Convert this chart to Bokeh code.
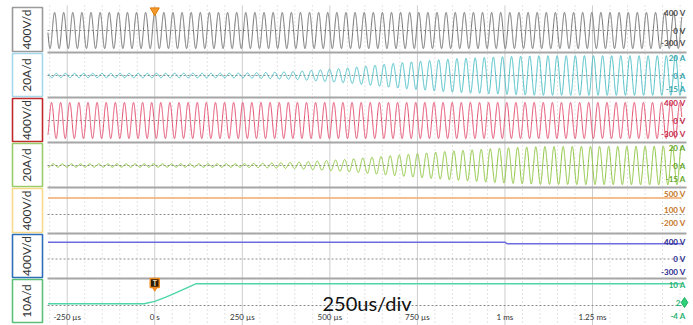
import numpy as np
from bokeh.plotting import figure
from bokeh.models import Range1d
from bokeh.core.properties import value
from bokeh.embed import file_html
from bokeh.resources import INLINE

# ---------------- data ----------------
time_ticks_us = [-250, 0, 250, 500, 750, 1000, 1250]
time_tick_labels = ["-250 µs", "0 s", "250 µs", "500 µs", "750 µs", "1 ms", "1.25 ms"]
record_start_us = -305
record_end_us = 1505

channel_scales = ["400V/d", "20A/d", "400V/d", "20A/d", "400V/d", "400V/d", "10A/d"]

# channels 1 and 3: sinusoidal voltages (peak V) and apparent period (µs)
v1_peak = 420
v3_peak = 410
carrier_period_us = 26.0

# channels 2 and 4: current envelopes (peak A)
env_time_us = [-305, 250, 400, 550, 700, 850, 1000, 1100, 1505]
i2_envelope = [2.4, 2.6, 4.5, 8.5, 14.5, 19.0, 21.5, 22.5, 22.5]
i4_envelope = [1.8, 1.9, 3.5, 7.0, 12.0, 16.5, 20.0, 21.5, 22.0]

# channel 5 and 6: DC voltages (V)
v5_time_us = [-305, 1505]
v5_values = [395, 395]
v6_time_us = [-305, 1000, 1006, 1505]
v6_values = [390, 390, 355, 355]

# channel 7: current ramp (A)
i7_time_us = [-305, -30, 0, 30, 60, 90, 117, 1505]
i7_values = [1.4, 1.4, 2.5, 4.3, 6.3, 8.4, 10.3, 10.3]

right_label_texts = [
    ["400 V", "0 V", "-300 V"],
    ["20 A", "0 A", "-15 A"],
    ["400 V", "0 V", "-300 V"],
    ["20 A", "0 A", "-15 A"],
    ["500 V", "100 V", "-200 V"],
    ["400 V", "0 V", "-300 V"],
    ["10 A", "2", "-4 A"],
]
right_label_values = [
    [400, 0, -300],
    [20, 0, -15],
    [400, 0, -300],
    [20, 0, -15],
    [500, 100, -200],
    [400, 0, -300],
    [10, 2, -4],
]
time_div_label = "250us/div"

# ---------------- styling / layout ----------------
trace_colors = ["#727272", "#4cbfc6", "#e4506f", "#8cc43e", "#f2aa6a", "#6c6ce0", "#4fd6a8"]
label_colors = ["#4a4a4a", "#35a6ae", "#c8284c", "#66a82a", "#c47426", "#2a2a8e", "#26b070"]
box_colors = ["#9a9a9a", "#a6d8ec", "#c0282c", "#9acc6a", "#f6da8a", "#2e6eb8", "#5cc07a"]

strip_zero_px = [30, 75, 120, 165, 214, 258.5, 306.5]
strip_px_per_unit = [0.043, 0.88, 0.044, 0.88, 0.042, 0.043, 2.25]
reference_px = [30, 75, 120, 165, 214, 258.5, 305]
separators_px = [52, 97, 142, 187, 233, 278]
box_tops = [7, 53, 98, 143, 188, 234, 279]
box_bottoms = [51, 96, 141, 186, 232, 277, 322]

W, H = 693, 325
T0_PX = 154.25
PX_PER_US = 0.3502


def tx(page_x):
    return (page_x - T0_PX) / PX_PER_US


p = figure(width=W, height=H, output_backend="svg", toolbar_location=None,
           x_range=Range1d(tx(0), tx(W)), y_range=Range1d(H, 0),
           x_axis_location=None, y_axis_location=None, min_border=0)
p.grid.visible = False
p.outline_line_color = None
p.background_fill_color = "white"
p.border_fill_color = "white"

for i, (c, k) in enumerate(zip(strip_zero_px, strip_px_per_unit)):
    p.extra_y_ranges[f"s{i}"] = Range1d((c - H) / k, c / k)

FONT = value("Lato")
plot_left, plot_right = tx(47), tx(684)

# minor dotted vertical grid
minor = [m for m in range(-300, 1501, 50) if m not in time_ticks_us]
p.segment(x0=minor, x1=minor, y0=[5] * len(minor), y1=[H] * len(minor),
          line_color="#c9c9c9", line_dash="1 3", line_width=1)
# major vertical grid
p.segment(x0=time_ticks_us, x1=time_ticks_us, y0=[5] * 7, y1=[H] * 7,
          line_color="#cdcdcd", line_width=1)

# dashed reference lines
p.segment(x0=[plot_left] * 7, x1=[plot_right] * 7, y0=reference_px, y1=reference_px,
          line_color="#8a8a8a", line_dash="2 2", line_width=1)

# waveforms
t = np.linspace(record_start_us, record_end_us, 7000)
w = 2 * np.pi * t / carrier_period_us
v1 = v1_peak * np.cos(w)
v3 = v3_peak * np.cos(w + 2.1)
i2 = np.interp(t, env_time_us, i2_envelope) * np.sin(w + 0.4)
i4 = np.interp(t, env_time_us, i4_envelope) * np.sin(w + 2.5)

p.line(t, v1, y_range_name="s0", line_color=trace_colors[0], line_width=1.0)
p.line(t, i2, y_range_name="s1", line_color=trace_colors[1], line_width=1.0)
p.line(t, v3, y_range_name="s2", line_color=trace_colors[2], line_width=1.0)
p.line(t, i4, y_range_name="s3", line_color=trace_colors[3], line_width=1.0)
p.line(v5_time_us, v5_values, y_range_name="s4", line_color=trace_colors[4], line_width=1.5)
p.line(v6_time_us, v6_values, y_range_name="s5", line_color=trace_colors[5], line_width=1.5)
p.line(i7_time_us, i7_values, y_range_name="s6", line_color=trace_colors[6], line_width=1.5)

# strip separators
p.segment(x0=[plot_left] * 6, x1=[tx(686)] * 6, y0=separators_px, y1=separators_px,
          line_color="#a6a6a6", line_width=2)

# left scale boxes
p.quad(left=[tx(12)] * 7, right=[tx(42)] * 7, top=box_tops, bottom=box_bottoms,
       fill_color="white", line_color=box_colors, line_width=1.6)
p.text(x=[tx(26)] * 7, y=[(a + b) / 2 for a, b in zip(box_tops, box_bottoms)], text=channel_scales,
       angle=np.pi / 2, text_align="center", text_baseline="middle", text_font=FONT,
       text_font_size="12px", text_color="#333333")

# right scale labels
for i in range(7):
    texts = right_label_texts[i]
    xs = [tx(685)] * 3
    if i == 6:
        xs[1] = tx(680)
    p.text(x=xs, y=right_label_values[i], text=texts, y_range_name=f"s{i}",
           text_align="right", text_baseline="middle", text_font=FONT,
           text_font_size="8px", text_font_style="bold", text_color=label_colors[i])
p.scatter(x=[tx(684)], y=[right_label_values[6][1]], y_range_name="s6", marker="diamond",
          size=10, fill_color="#2ed07a", line_color="#1fb060")

# time tick labels (drawn inside the bottom strip, as on the scope)
p.text(x=time_ticks_us, y=[316] * 7, text=time_tick_labels, text_align="center",
       text_baseline="middle", text_font=FONT, text_font_size="8px", text_color="#333333")

# time/div annotation
p.text(x=[tx(322)], y=[302], text=[time_div_label], text_align="left", text_baseline="alphabetic",
       text_font=FONT, text_font_size="20px", text_color="#111111")

# trigger markers
p.scatter(x=[0], y=[10], marker="inverted_triangle", size=9, fill_color="#f39a30", line_color="#e07b00")
p.rect(x=[0], y=[282.5], width=9, height=9, width_units="screen", height_units="screen",
       fill_color="#2b1d0e", line_color="#f08a1c", line_width=1.5)
p.text(x=[0], y=[282.8], text=["T"], text_align="center", text_baseline="middle", text_font=FONT,
       text_font_size="7px", text_font_style="bold", text_color="#ffe6c0")
p.scatter(x=[0], y=[288.5], marker="inverted_triangle", size=4, fill_color="#f08a1c", line_color="#f08a1c")

open("out.html", "w").write(file_html(p, INLINE))
